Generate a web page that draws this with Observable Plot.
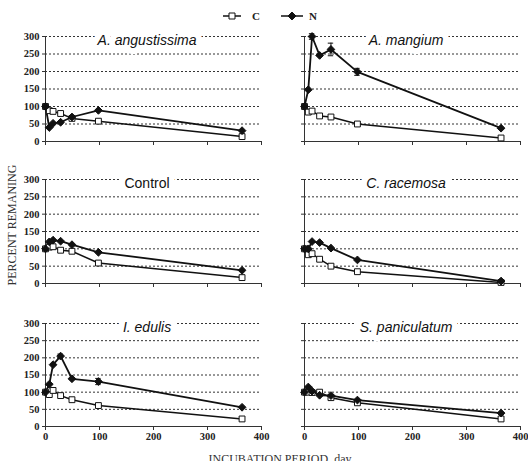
<!DOCTYPE html>
<html>
<head>
<meta charset="utf-8">
<script src="https://cdn.jsdelivr.net/npm/d3@7"></script>
<script src="https://cdn.jsdelivr.net/npm/@observablehq/plot@0.6"></script>
<style>
  html, body { margin: 0; padding: 0; background: #fff; overflow: hidden; }
  #chart { position: relative; width: 529px; height: 461px; }
  #chart > svg { position: absolute; }
  #chart g[aria-label$="tick label"], #chart g[aria-label$="tick label"] text {
    font-family: 'Liberation Serif', 'Times New Roman', serif !important;
    font-weight: bold !important;
    font-size: 10.5px !important;
  }
</style>
</head>
<body>
<div id="chart"></div>
<script>
// Sampling days (incubation period)
const days = [0, 7, 14, 28, 49, 98, 364];

// Percent remaining of carbon (C) and nitrogen (N) for each residue
const angustissimaC = [100, 88, 86, 80, 66, 58, 14];
const angustissimaN = [100, 40, 52, 55, 70, 89, 31];
const angustissimaNErr = [0, 0, 0, 0, 0, 0, 0];

const mangiumC = [100, 84, 87, 73, 70, 50, 10];
const mangiumN = [100, 148, 300, 246, 263, 199, 38];
const mangiumNErr = [0, 0, 8, 0, 18, 10, 0];

const controlC = [100, 105, 106, 96, 93, 59, 17];
const controlN = [100, 120, 125, 122, 112, 90, 38];
const controlNErr = [0, 0, 0, 0, 0, 0, 0];

const racemosaC = [100, 83, 86, 70, 50, 34, 3];
const racemosaN = [100, 100, 121, 118, 102, 68, 7];
const racemosaNErr = [0, 0, 0, 0, 0, 0, 0];

const edulisC = [100, 93, 105, 90, 78, 61, 22];
const edulisN = [100, 123, 180, 205, 139, 131, 56];
const edulisNErr = [0, 0, 0, 6, 0, 9, 0];

const paniculatumC = [100, 100, 99, 100, 84, 69, 22];
const paniculatumN = [100, 115, 103, 91, 90, 77, 39];
const paniculatumNErr = [0, 0, 0, 0, 0, 0, 0];

const panelTitles = ["A. angustissima", "A. mangium", "Control", "C. racemosa", "I. edulis", "S. paniculatum"];
const xTicks = [0, 100, 200, 300, 400];
const yTicks = [0, 50, 100, 150, 200, 250, 300];
const seriesNames = ["C", "N"];
const xTitle = "INCUBATION PERIOD, day";
const yTitle = "PERCENT REMANING";

const panels = [
  {title: panelTitles[0], c: angustissimaC, n: angustissimaN, err: angustissimaNErr, col: 0, row: 0},
  {title: panelTitles[1], c: mangiumC, n: mangiumN, err: mangiumNErr, col: 1, row: 0},
  {title: panelTitles[2], c: controlC, n: controlN, err: controlNErr, col: 0, row: 1},
  {title: panelTitles[3], c: racemosaC, n: racemosaN, err: racemosaNErr, col: 1, row: 1},
  {title: panelTitles[4], c: edulisC, n: edulisN, err: edulisNErr, col: 0, row: 2},
  {title: panelTitles[5], c: paniculatumC, n: paniculatumN, err: paniculatumNErr, col: 1, row: 2}
];

const chart = document.getElementById("chart");
const ink = "#111";
const serif = "'Liberation Serif', 'Times New Roman', serif";
const sans = "'Liberation Sans', Arial, sans-serif";

// Column / row placement of each small chart
const colLayout = [
  {left: 0, marginLeft: 45, marginRight: 12},
  {left: 273, marginLeft: 31, marginRight: 8}
];
const rowLayout = [
  {top: 26, plotH: 105, marginBottom: 8},
  {top: 169, plotH: 104, marginBottom: 8},
  {top: 313, plotH: 103, marginBottom: 24}
];
const plotW = 216;
const marginTop = 10;
const tickFont = {fontFamily: serif, fontWeight: "bold", fontSize: 10.5, fill: "#222"};

for (const p of panels) {
  const cl = colLayout[p.col];
  const rl = rowLayout[p.row];
  const showY = p.col === 0;
  const showX = p.row === 2;
  const rows = days.map((d, i) => ({day: d, c: p.c[i], n: p.n[i], e: p.err[i]}));
  const errRows = rows.filter(d => d.e > 0);

  const svg = Plot.plot({
    width: cl.marginLeft + plotW + cl.marginRight,
    height: marginTop + rl.plotH + rl.marginBottom,
    marginLeft: cl.marginLeft,
    marginRight: cl.marginRight,
    marginTop: marginTop,
    marginBottom: rl.marginBottom,
    style: {fontFamily: serif, fontSize: "10.5px", color: "#222", background: "transparent"},
    x: {domain: [0, 400]},
    y: {domain: [0, 300]},
    marks: [
      Plot.gridY(yTicks.slice(1), {stroke: "#333", strokeOpacity: 1, strokeWidth: 1, strokeDasharray: "2,2"}),
      Plot.ruleY([0], {stroke: "#333", strokeWidth: 1}),
      Plot.ruleX([0], {y1: 0, y2: 300, stroke: "#333", strokeWidth: 1}),
      Plot.axisY({ticks: yTicks, tickSize: 3, tickPadding: 3, label: null, stroke: "#333",
        tickFormat: showY ? (d => d) : (() => ""), ...tickFont}),
      Plot.axisX({ticks: xTicks, tickSize: 4, tickPadding: 2, label: null, stroke: "#333",
        tickFormat: showX ? (d => d) : (() => ""), ...tickFont}),
      Plot.text([p.title], {
        x: 188, y: 300, text: d => d, dy: 4,
        fontFamily: sans,
        fontStyle: p.title === "Control" ? "normal" : "italic",
        fontWeight: "normal",
        fontSize: 14, fill: ink, stroke: "white", strokeWidth: 12
      }),
      Plot.line(rows, {x: "day", y: "c", stroke: ink, strokeWidth: 1.5}),
      Plot.line(rows, {x: "day", y: "n", stroke: ink, strokeWidth: 1.8}),
      Plot.ruleX(errRows, {x: "day", y1: d => d.n - d.e, y2: d => d.n + d.e, stroke: ink, strokeWidth: 1}),
      Plot.ruleY(errRows, {y: d => d.n + d.e, x1: d => d.day - 5, x2: d => d.day + 5, stroke: ink, strokeWidth: 1}),
      Plot.ruleY(errRows, {y: d => d.n - d.e, x1: d => d.day - 5, x2: d => d.day + 5, stroke: ink, strokeWidth: 1}),
      Plot.dot(rows, {x: "day", y: "c", symbol: "square", r: 3.3, fill: "white", stroke: ink, strokeWidth: 1}),
      Plot.dot(rows, {x: "day", y: "n", symbol: "diamond2", r: 3.5, fill: ink, stroke: ink, strokeWidth: 1})
    ]
  });
  svg.style.left = cl.left + "px";
  svg.style.top = rl.top + "px";
  chart.appendChild(svg);
}

// Legend and axis titles
const overlay = d3.select(chart).append("svg")
  .attr("width", 529).attr("height", 461)
  .style("left", "0px").style("top", "0px")
  .style("pointer-events", "none");

const legendItems = [
  {name: seriesNames[0], x1: 223, x2: 241, cx: 232, symbol: d3.symbolSquare, size: 36, fill: "white", tx: 252},
  {name: seriesNames[1], x1: 281, x2: 303, cx: 292, symbol: d3.symbolDiamond2, size: 40, fill: ink, tx: 309}
];
const ly = 16;
for (const it of legendItems) {
  overlay.append("line").attr("x1", it.x1).attr("x2", it.x2).attr("y1", ly).attr("y2", ly)
    .attr("stroke", ink).attr("stroke-width", 1.5);
  overlay.append("path").attr("d", d3.symbol(it.symbol, it.size)())
    .attr("transform", `translate(${it.cx},${ly})`)
    .attr("fill", it.fill).attr("stroke", ink).attr("stroke-width", 1);
  overlay.append("text").attr("x", it.tx).attr("y", ly + 4)
    .attr("font-family", serif)
    .attr("font-weight", "bold").attr("font-size", 11).attr("fill", "#222")
    .text(it.name);
}

overlay.append("text")
  .attr("transform", "translate(16,225) rotate(-90)")
  .attr("text-anchor", "middle")
  .attr("font-family", serif)
  .attr("font-size", 12).attr("fill", "#333")
  .text(yTitle);

overlay.append("text")
  .attr("x", 280).attr("y", 463)
  .attr("text-anchor", "middle")
  .attr("font-family", serif)
  .attr("font-size", 12).attr("fill", "#333")
  .text(xTitle);
</script>
</body>
</html>
